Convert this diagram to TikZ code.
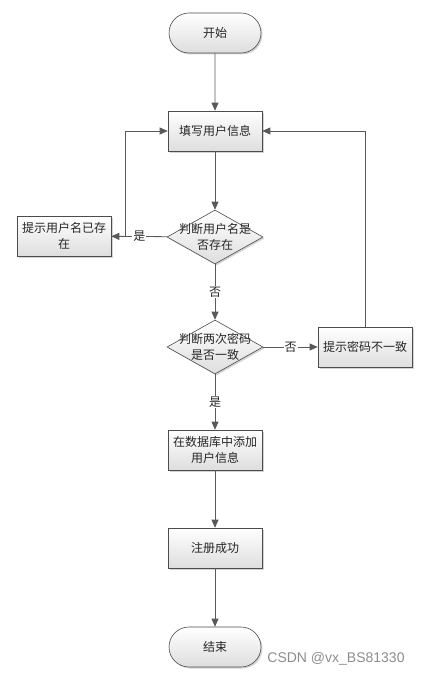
\documentclass[tikz,border=0pt]{standalone}
\usepackage{fontspec}
\newfontfamily\cjk{Noto Sans CJK SC}
\setsansfont{Liberation Sans}
\usetikzlibrary{shapes.geometric,shapes.misc,arrows.meta,shadows}

\begin{document}
\begin{tikzpicture}[x=1pt,y=-1pt,
    every node/.style={font=\cjk\fontsize{12}{16}\selectfont, text=black!85},
    shade/.style={draw=black!70, line width=0.6pt, top color=white, bottom color=black!13,
        drop shadow={shadow xshift=1.5pt, shadow yshift=-1.5pt, opacity=0.35}},
    box/.style={shade, rectangle, minimum width=94pt, minimum height=40pt, align=center, inner sep=1pt},
    term/.style={shade, rounded rectangle, minimum width=94pt, minimum height=40pt, inner sep=1pt},
    decision/.style={shade, diamond, minimum width=96pt, minimum height=54pt, inner sep=0pt},
    line/.style={draw=black!65, line width=0.8pt},
    arr/.style={line, -{Triangle[length=8pt,width=7pt]}},
    lbl/.style={fill=white, inner sep=1pt}
]
    \useasboundingbox (0,0) rectangle (428,677);

    % main column
    \node[term] (start) at (215,33) {开始};
    \node[box] (fill) at (215,131) {填写用户信息};
    \node[decision] (d1) at (215,237) {};
    \node[align=center] (t1) at (d1) {判断用户名是\\否存在};
    \node[box] (exist) at (64,236) {提示用户名已存\\在};
    \node[decision] (d2) at (215,347) {};
    \node[align=center] (t2) at (d2) {判断两次密码\\是否一致};
    \node[box] (mismatch) at (365,347) {提示密码不一致};
    \node[box] (db) at (215,450) {在数据库中添加\\用户信息};
    \node[box] (ok) at (215,548) {注册成功};
    \node[term] (end) at (215,647) {结束};

    % connectors
    \foreach \a/\b in {start/fill,fill/d1,db/ok,ok/end}
        \draw[arr] (\a) -- (\b);
    \draw[arr] (d1) -- node[lbl]{是} (exist);
    \draw[arr] (exist.east) -- ++(14,0) |- (fill.west);
    \draw[arr] (d1) -- node[lbl]{否} (d2);
    \draw[arr] (d2) -- node[lbl]{否} (mismatch);
    \draw[arr] (mismatch) |- (fill.east);
    \draw[arr] (d2) -- node[lbl]{是} (db);

    % watermark
    \node[font=\sffamily\fontsize{14}{16}\selectfont, text=black!45] (mark) at (336,659) {CSDN @vx\_BS81330};
\end{tikzpicture}
\end{document}
